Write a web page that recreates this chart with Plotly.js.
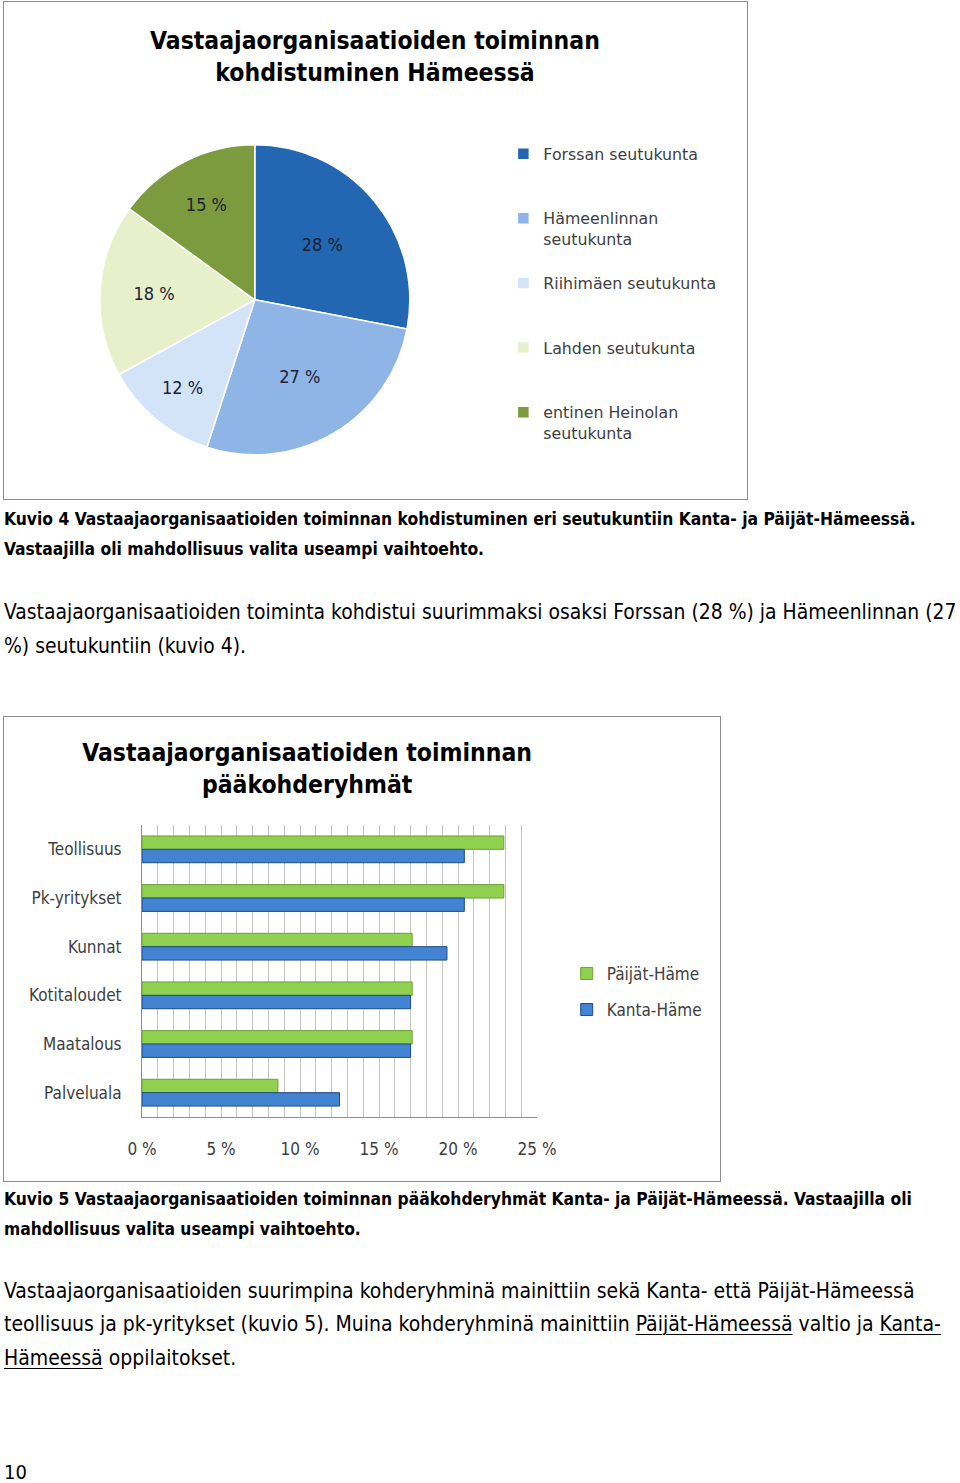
<!DOCTYPE html>
<html><head><meta charset="utf-8">
<script src="https://cdn.plot.ly/plotly-3.0.1.min.js"></script>
<style>
body{margin:0;width:960px;height:1483px;position:relative;background:#fff;font-family:"Liberation Sans Narrow","DejaVu Sans Condensed",sans-serif;color:#000;overflow:hidden}
.frame{position:absolute;border:1.5px solid #8c8c8c;box-sizing:border-box}
.plot{position:absolute}
.ln{position:absolute;left:4px;white-space:nowrap;line-height:1}
.b{font-weight:bold}
u{text-decoration-thickness:1px;text-underline-offset:3px}
</style></head><body>
<div class="frame" style="left:3px;top:1px;width:745px;height:499px"></div>
<div id="pie" class="plot" style="left:4px;top:2px;width:742px;height:496px"></div>
<div class="frame" style="left:3px;top:716px;width:718px;height:466px"></div>
<div id="bar" class="plot" style="left:4px;top:717px;width:715px;height:463px"></div>

<div id="c4a" class="ln b" data-y="518">Kuvio 4 Vastaajaorganisaatioiden toiminnan kohdistuminen eri seutukuntiin Kanta- ja Päijät-Hämeessä.</div>
<div id="c4b" class="ln b" data-y="548">Vastaajilla oli mahdollisuus valita useampi vaihtoehto.</div>
<div id="p1a" class="ln" data-y="611">Vastaajaorganisaatioiden toiminta kohdistui suurimmaksi osaksi Forssan (28 %) ja Hämeenlinnan (27</div>
<div id="p1b" class="ln" data-y="645">%) seutukuntiin (kuvio 4).</div>
<div id="c5a" class="ln b" data-y="1198">Kuvio 5 Vastaajaorganisaatioiden toiminnan pääkohderyhmät Kanta- ja Päijät-Hämeessä. Vastaajilla oli</div>
<div id="c5b" class="ln b" data-y="1228">mahdollisuus valita useampi vaihtoehto.</div>
<div id="p2a" class="ln" data-y="1290">Vastaajaorganisaatioiden suurimpina kohderyhminä mainittiin sekä Kanta- että Päijät-Hämeessä</div>
<div id="p2b" class="ln" data-y="1323">teollisuus ja pk-yritykset (kuvio 5). Muina kohderyhminä mainittiin <u>Päijät-Hämeessä</u> valtio ja <u>Kanta-</u></div>
<div id="p2c" class="ln" data-y="1357"><u>Hämeessä</u> oppilaitokset.</div>
<div id="pg" class="ln" data-y="1470">10</div>

<script>
// ---- Pie data ----
const pieLabels = ['Forssan seutukunta', 'Hämeenlinnan<br>seutukunta', 'Riihimäen seutukunta', 'Lahden seutukunta', 'entinen Heinolan<br>seutukunta'];
const pieValues = [28, 27, 12, 18, 15];
const pieColors = ['#2366b2', '#8fb4e6', '#d3e4f8', '#e8f0cb', '#7b9b3e'];

// ---- Bar data ----
const barCategories = ['Teollisuus', 'Pk-yritykset', 'Kunnat', 'Kotitaloudet', 'Maatalous', 'Palveluala'];
const paijatHame = [22.9, 22.9, 17.1, 17.1, 17.1, 8.6];
const kantaHame = [20.4, 20.4, 19.3, 17.0, 17.0, 12.5];
const seriesNames = ['Päijät-Häme', 'Kanta-Häme'];

const FONT = '"Liberation Sans Narrow","DejaVu Sans Condensed",sans-serif';
const FONT_W = '"DejaVu Sans",sans-serif';

// legend slot padding so each entry gets equal height like the original
const pieLegendLabels = pieLabels.map(l => (l.split('<br>').length < 2 ? l + '<br>\u00a0' : l) + '<br>\u00a0');

Plotly.newPlot('pie', [{
  type: 'pie',
  labels: pieLegendLabels,
  values: pieValues,
  sort: false,
  direction: 'clockwise',
  rotation: 0,
  marker: {colors: pieColors, line: {color: '#ffffff', width: 1.5}},
  texttemplate: '%{value} %',
  textposition: 'inside',
  insidetextorientation: 'horizontal',
  textfont: {family: FONT, size: 18, color: '#1c2233'},
  domain: {x: [0.129, 0.547], y: [0.087, 0.712]},
  hoverinfo: 'none'
}], {
  width: 742, height: 496,
  margin: {l: 0, r: 0, t: 0, b: 0},
  paper_bgcolor: '#ffffff',
  font: {family: FONT},
  title: {text: '<b>Vastaajaorganisaatioiden toiminnan<br>kohdistuminen Hämeessä</b>',
          font: {family: FONT, size: 24.5, color: '#000'},
          x: 0.5, xanchor: 'center', y: 0.905, yanchor: 'top', yref: 'container'},
  showlegend: true,
  legend: {x: 0.673, xanchor: 'left', y: 0.728, yanchor: 'top', valign: 'top',
           font: {family: FONT_W, size: 15.8, color: '#404040'}, bgcolor: 'rgba(0,0,0,0)'}
}, {staticPlot: true});

Plotly.newPlot('bar', [
  {type: 'bar', orientation: 'h', name: seriesNames[0], y: barCategories, x: paijatHame,
   marker: {color: '#8fd04e', line: {color: '#6e9f34', width: 1}}, legendgroup: 'a'},
  {type: 'bar', orientation: 'h', name: seriesNames[1], y: barCategories, x: kantaHame,
   marker: {color: '#4283d2', line: {color: '#1f4a86', width: 1}}, legendgroup: 'b'}
], {
  width: 715, height: 463,
  margin: {l: 138, r: 182, t: 108, b: 63},
  paper_bgcolor: '#ffffff', plot_bgcolor: '#ffffff',
  font: {family: FONT},
  barmode: 'group', bargap: 0.45, bargroupgap: 0,
  title: {text: '<b>Vastaajaorganisaatioiden toiminnan<br>pääkohderyhmät</b>',
          font: {family: FONT, size: 24.5, color: '#000'},
          x: 0.424, xanchor: 'center', y: 0.904, yanchor: 'top', yref: 'container'},
  xaxis: {range: [0, 25], dtick: 5, tick0: 0, ticksuffix: ' %',
          showgrid: true, gridcolor: '#c4c4c4', gridwidth: 1,
          minor: {dtick: 1, showgrid: true, gridcolor: '#c4c4c4', gridwidth: 1},
          showline: true, linecolor: '#8c8c8c', zeroline: false, ticks: '',
          ticklabelstandoff: 17, tickfont: {family: FONT, size: 17, color: '#404040'}, fixedrange: true},
  yaxis: {type: 'category', autorange: 'reversed', showline: true, linecolor: '#8c8c8c',
          ticks: '', showgrid: false, ticklabelstandoff: 16,
          tickfont: {family: FONT, size: 17, color: '#404040'}, fixedrange: true},
  showlegend: true,
  legend: {xref: 'container', yref: 'container', x: 0.787, xanchor: 'left', y: 0.484, yanchor: 'top',
           traceorder: 'grouped', tracegroupgap: 11,
           font: {family: FONT, size: 17, color: '#404040'}, bgcolor: 'rgba(0,0,0,0)'}
}, {staticPlot: true});

// ---- fit caption/paragraph text to the original line widths ----
function fitGroup(ids, target) {
  const first = document.getElementById(ids[0]);
  first.style.fontSize = '100px';
  const w = first.getBoundingClientRect().width;
  const f = 100 * target / w;
  ids.forEach(id => {
    const el = document.getElementById(id);
    el.style.fontSize = f + 'px';
    el.style.top = (parseFloat(el.dataset.y) - f * 0.41) + 'px';
  });
}
fitGroup(['c4a', 'c4b'], 912);
fitGroup(['p1a', 'p1b'], 953);
fitGroup(['c5a', 'c5b'], 909);
fitGroup(['p2a', 'p2b', 'p2c'], 911);
const pg = document.getElementById('pg'); pg.style.fontSize = '20px'; pg.style.top = (1470 - 8.5) + 'px';
</script>
</body></html>
